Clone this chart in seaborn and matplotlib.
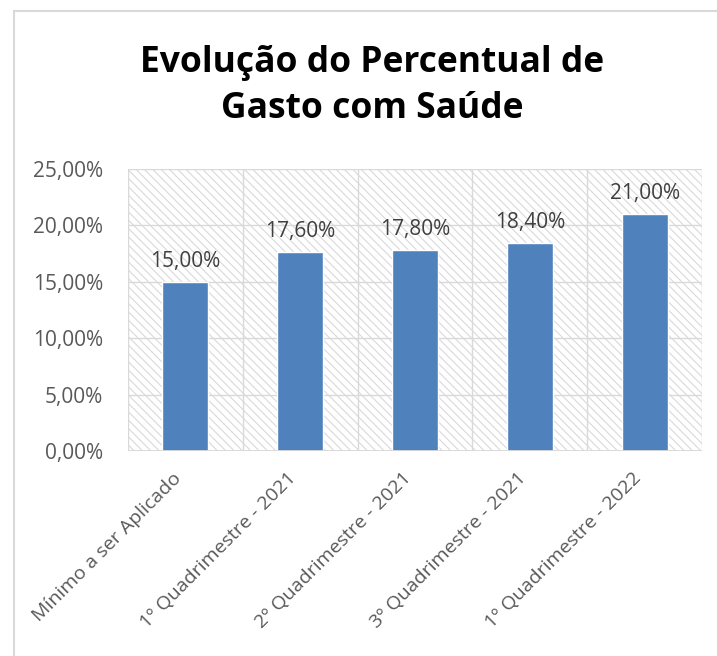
import matplotlib
matplotlib.use("Agg")
import matplotlib.pyplot as plt
import matplotlib.transforms as mtransforms
import seaborn as sns
import pandas as pd
from matplotlib.patches import Rectangle
from matplotlib.ticker import FuncFormatter, MultipleLocator

categorias = ["Mínimo a ser Aplicado", "1º Quadrimestre - 2021", "2º Quadrimestre - 2021",
              "3º Quadrimestre - 2021", "1º Quadrimestre - 2022"]
percentuais = [15.00, 17.60, 17.80, 18.40, 21.00]
titulo = "Evolução do Percentual de\nGasto com Saúde"

sns.set_theme(style="white")
plt.rcParams['font.family'] = ['Open Sans', 'DejaVu Sans']
plt.rcParams['hatch.color'] = '#d9d9d9'
plt.rcParams['hatch.linewidth'] = 0.8

df = pd.DataFrame({"cat": categorias, "val": percentuais})

fig = plt.figure(figsize=(7.17, 6.56), dpi=100)
ax = fig.add_axes([128/717, 1-451/656, (702-128)/717, (451-169)/656])

ax.patch.set_facecolor('white')
bg = Rectangle((0, 0), 1, 1, transform=ax.transAxes, facecolor='white',
               edgecolor='#d9d9d9', hatch='\\\\\\\\', linewidth=0, zorder=0)
ax.add_patch(bg)

sns.barplot(data=df, x="cat", y="val", color='#4f81bd', width=0.4, saturation=1,
            ax=ax, zorder=3)

ax.set_ylim(0, 25)
ax.set_xlim(-0.5, len(categorias) - 0.5)
ax.yaxis.set_major_locator(MultipleLocator(5))
ax.yaxis.set_major_formatter(FuncFormatter(lambda v, p: f"{v:.2f}%".replace('.', ',')))

for y in range(0, 26, 5):
    ax.axhline(y, color='#d9d9d9', lw=1, zorder=1)
for xb in [i - 0.5 for i in range(len(categorias) + 1)]:
    ax.axvline(xb, color='#d9d9d9', lw=1, zorder=1)
ax.axhline(0, color='#d9d9d9', lw=1.3, zorder=4)

for s in ax.spines.values():
    s.set_visible(False)

ax.set_xlabel("")
ax.set_ylabel("")
ax.tick_params(axis='y', labelsize=15, colors='#595959', length=0, pad=18)
ax.tick_params(axis='x', labelsize=14, colors='#595959', length=0, pad=13)
offset = mtransforms.ScaledTranslation(-0.13, 0, fig.dpi_scale_trans)
for lab in ax.get_xticklabels():
    lab.set_rotation(45)
    lab.set_ha('right')
    lab.set_va('top')
    lab.set_rotation_mode('anchor')
    lab.set_transform(lab.get_transform() + offset)

for i, v in enumerate(percentuais):
    ax.text(i, v + 0.9, f"{v:.2f}%".replace('.', ','), ha='center', va='bottom',
            fontsize=15, color='#404040', zorder=5)

fig.text(372/717, 1-86/656, titulo, ha='center', va='center', fontsize=25.5,
         fontweight='bold', color='black', linespacing=1.4)

fig.patches.append(Rectangle((14/717, -0.1), 1.2, 0.1 + (1-11/656), transform=fig.transFigure,
                             facecolor='none', edgecolor='#d9d9d9', lw=1.5))

fig.savefig("out.png", dpi=100)
